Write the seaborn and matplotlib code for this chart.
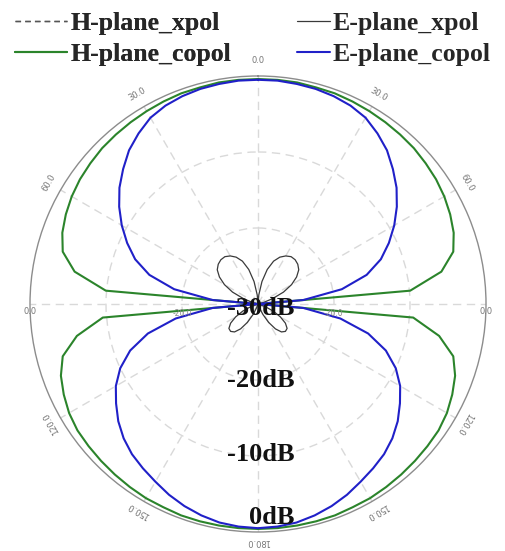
import numpy as np
import pandas as pd
import matplotlib
matplotlib.use("Agg")
import matplotlib.pyplot as plt
import matplotlib.transforms as mtransforms
import seaborn as sns

# Half-plane pattern cuts (0..180 deg, 5 deg steps); the other half is the mirror image
angle_deg = np.arange(0, 181, 5)

h_copol = [-0.4, -0.4, -0.4, -0.5, -0.5, -0.6, -0.7, -0.8, -0.9, -1.0,
           -1.2, -1.4, -1.7, -2.1, -2.6, -3.4, -5.5, -9.9, -30.0,
           -9.5, -5.8, -3.4, -2.4, -1.8, -1.3, -1.0, -0.9, -0.8, -0.7,
           -0.6, -0.5, -0.5, -0.4, -0.4, -0.4, -0.4, -0.4]

e_copol = [-0.5, -0.5, -0.6, -0.7, -0.9, -1.2, -1.7, -2.6, -3.6, -4.9,
           -6.2, -7.7, -9.3, -11.0, -12.8, -15.2, -18.8, -24.0, -30.0,
           -24.0, -19.0, -15.0, -12.1, -10.0, -8.4, -7.2, -6.0, -5.0, -4.2,
           -3.6, -3.0, -2.3, -1.7, -1.2, -0.8, -0.6, -0.5]

e_xpol = [-30.0, -28.8, -27.0, -25.3, -24.0, -23.2, -22.7, -22.4, -22.4, -22.6,
          -23.0, -23.8, -24.9, -26.3, -28.0, -29.3, -30.0, -30.0, -30.0,
          -30.0, -30.0, -30.0, -29.0, -27.8, -26.6, -25.6, -25.0, -24.9, -25.2,
          -26.0, -27.2, -28.5, -29.5, -30.0, -30.0, -30.0, -30.0]

h_xpol = [-33.0, -33.0, -32.8, -32.6, -32.5, -32.4, -32.3, -32.3, -32.4, -32.6,
          -32.8, -33.0, -33.3, -33.6, -34.0, -34.5, -35.0, -35.5, -36.0,
          -35.5, -35.0, -34.5, -34.0, -33.6, -33.3, -33.0, -32.8, -32.6, -32.4,
          -32.3, -32.3, -32.4, -32.5, -32.6, -32.8, -33.0, -33.0]

series_names = ["H-plane_xpol", "H-plane_copol", "E-plane_xpol", "E-plane_copol"]
series_values = [h_xpol, h_copol, e_xpol, e_copol]
series_colors = ["#555555", "#2b842b", "#3a3a3a", "#2020c8"]
series_styles = [(0, (4, 3)), "-", "-", "-"]
series_widths = [1.0, 1.5, 0.9, 1.5]

db_min, db_max = -30, 0
db_labels = ["-30dB", "-20dB", "-10dB", "0dB"]
db_label_r = [-30.0, -19.9, -10.2, -1.85]

theta_labels = ["0.0", "30.0", "60.0", "0.0", "120.0", "150.0", "180.0"]
theta_label_deg = [0, 30, 60, 92, 120, 150, 180]
theta_label_pad = [2.0, 1.8, 1.8, 0.0, 1.4, 1.4, 1.3]


def full_cut(vals):
    a = np.asarray(angle_deg, dtype=float)
    v = np.asarray(vals, dtype=float)
    ang = np.concatenate([a, 360 - a[::-1][1:]])
    lev = np.concatenate([v, v[::-1][1:]])
    return np.deg2rad(ang), np.clip(lev, db_min, db_max)


sns.set_style("white")
plt.rcParams["font.family"] = ["DejaVu Sans"]

fig = plt.figure(figsize=(5.05, 5.51), dpi=100)
ax = fig.add_axes([0.0594, 0.0345, 0.903, 0.8276], projection="polar")
ax.set_theta_zero_location("N")
ax.set_theta_direction(-1)

handles = []
for name, vals, col, ls, lw in zip(series_names, series_values, series_colors,
                                   series_styles, series_widths):
    th, lev = full_cut(vals)
    df = pd.DataFrame({"theta": th, "level": lev})
    n0 = len(ax.lines)
    sns.lineplot(data=df, x="theta", y="level", sort=False, estimator=None,
                 color=col, linewidth=lw, linestyle=ls, ax=ax, legend=False)
    line = ax.lines[n0]
    line.set_label(name)
    handles.append(line)

ax.set_xlabel("")
ax.set_ylabel("")
ax.set_ylim(db_min, db_max)
ax.set_yticks([-20, -10])
ax.set_yticklabels([])
ax.set_xticks(np.deg2rad(np.arange(0, 360, 30)))
ax.set_xticklabels([])
ax.grid(True, color="#d9d9d9", linestyle=(0, (6, 4)), linewidth=1.0)
ax.spines["polar"].set_color("#8c8c8c")
ax.spines["polar"].set_linewidth(1.0)

# angle labels, written along the rim
for a, pad, lab in zip(theta_label_deg, theta_label_pad, theta_labels):
    kw = dict(ha="center", va="center", fontsize=6, color="#777777", clip_on=False)
    if a in (0, 180):
        ax.text(np.deg2rad(a), db_max + pad, lab, rotation=(180 if a == 180 else 0), **kw)
        continue
    side_rot = 0 if 90 < a < 95 else a
    ax.text(np.deg2rad(360 - a), db_max + pad, lab, rotation=side_rot, **kw)
    ax.text(np.deg2rad(a), db_max + pad, lab, rotation=-side_rot, **kw)

# small radial tick values
ax.text(np.deg2rad(263), -20, "-20.0", ha="center", va="center", fontsize=5.5,
        color="#888888")
ax.text(np.deg2rad(97), -20, "-20.0", ha="center", va="center", fontsize=5.5,
        color="#888888")

# dB level annotations
serif_bold = {"family": "Liberation Serif", "weight": "bold", "size": 19}
for lab, r in zip(db_labels, db_label_r):
    dx = 14 if lab == "0dB" else 3
    dy = -5 if lab == "-30dB" else 0
    tr = mtransforms.offset_copy(ax.transData, fig=fig, x=dx, y=dy, units="dots")
    ax.text(np.pi, r, lab, ha="center", va="center", transform=tr,
            fontdict=serif_bold, color="#111111")

# legend: H-plane entries on the left, E-plane entries on the right
legend_font = {"family": "Liberation Serif", "weight": "bold", "size": 18.5}
leg_h = fig.legend(handles=handles[:2], labels=series_names[:2], loc="upper left",
                   bbox_to_anchor=(0.0, 1.0065), frameon=False, prop=legend_font,
                   handlelength=2.0, handletextpad=0.15, labelspacing=0.3,
                   borderaxespad=0.2)
fig.add_artist(leg_h)
fig.legend(handles=handles[2:], labels=series_names[2:], loc="upper left",
           bbox_to_anchor=(0.557, 1.0065), frameon=False, prop=legend_font,
           handlelength=1.3, handletextpad=0.08, labelspacing=0.3,
           borderaxespad=0.2)

fig.savefig("out.png", dpi=100, facecolor="white")
